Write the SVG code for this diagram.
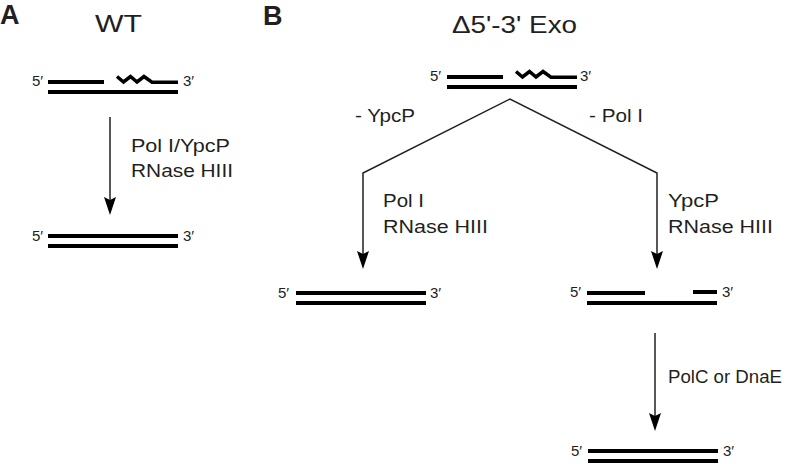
<svg xmlns="http://www.w3.org/2000/svg" width="800" height="464" viewBox="0 0 800 464">
<style>
text{font-family:"Liberation Sans",Arial,sans-serif;fill:#231f20}
.lbl{font-size:17.5px}
.end{font-size:15px}
.ttl{font-size:23px}
.pan{font-size:27px;font-weight:bold}
.dna{stroke:#000;stroke-width:4;fill:none}
.zig{stroke:#000;stroke-width:3.5;fill:none;stroke-linejoin:miter}
.ln{stroke:#231f20;stroke-width:1.5;fill:none}
.ah{fill:#000}
</style>
<defs>
<g id="hybrid">
<line class="dna" x1="0" y1="0" x2="56" y2="0"/>
<polyline class="zig" points="69,-5.5 75.5,0 82.5,-5.5 89,0 96,-5.5 104,0.2 130,0.2"/>
<line class="dna" x1="0" y1="10" x2="130" y2="10"/>
</g>
<g id="duplex">
<line class="dna" x1="0" y1="0" x2="130" y2="0"/>
<line class="dna" x1="0" y1="10" x2="130" y2="10"/>
</g>
</defs>
<g id="labelA"><text class="pan" x="0" y="24">A</text></g>
<g id="labelB"><text class="pan" x="263" y="25">B</text></g>
<g id="titleWT"><text class="ttl" x="95" y="32" textLength="47" lengthAdjust="spacingAndGlyphs">WT</text></g>
<g id="titleExo"><text class="ttl" x="452" y="33" textLength="125" lengthAdjust="spacingAndGlyphs">Δ5'-3' Exo</text></g>

<g id="wt-top">
<use href="#hybrid" x="48" y="82"/>
<text class="end" x="32" y="86">5′</text>
<text class="end" x="183" y="86">3′</text>
</g>
<g id="wt-bottom">
<use href="#duplex" x="48" y="236"/>
<text class="end" x="32" y="241">5′</text>
<text class="end" x="183" y="241">3′</text>
</g>
<g id="exo-top">
<use href="#hybrid" x="447" y="77"/>
<text class="end" x="430" y="81">5′</text>
<text class="end" x="580" y="81">3′</text>
</g>
<g id="exo-left">
<use href="#duplex" x="296" y="293"/>
<text class="end" x="278" y="298">5′</text>
<text class="end" x="430" y="298">3′</text>
</g>
<g id="exo-right">
<line class="dna" x1="587" y1="293" x2="645" y2="293"/>
<line class="dna" x1="693" y1="292" x2="717" y2="292"/>
<line class="dna" x1="587" y1="303" x2="717" y2="303"/>
<text class="end" x="570" y="297">5′</text>
<text class="end" x="722" y="297">3′</text>
</g>
<g id="exo-bottom">
<use href="#duplex" x="588" y="451"/>
<text class="end" x="571" y="456">5′</text>
<text class="end" x="723" y="456">3′</text>
</g>

<g id="connectors">
<line class="ln" x1="110" y1="117" x2="110" y2="200"/>
<polygon class="ah" points="104,197 110,200 116,197 110,215"/>
<polyline class="ln" points="363,254 363,173 510,99 657,173 657,254"/>
<polygon class="ah" points="357,251 363,254 369,251 363,269"/>
<polygon class="ah" points="651,251 657,254 663,251 657,269"/>
<line class="ln" x1="655" y1="333" x2="655" y2="416"/>
<polygon class="ah" points="649,413 655,416 661,413 655,431"/>
</g>

<g id="connector-labels">
<text class="lbl" x="131" y="152" textLength="99" lengthAdjust="spacingAndGlyphs">Pol I/YpcP</text>
<text class="lbl" x="131" y="177" textLength="102" lengthAdjust="spacingAndGlyphs">RNase HIII</text>
<text class="lbl" x="355" y="122" textLength="60" lengthAdjust="spacingAndGlyphs">- YpcP</text>
<text class="lbl" x="589" y="122" textLength="54" lengthAdjust="spacingAndGlyphs">- Pol I</text>
<text class="lbl" x="383" y="207" textLength="41" lengthAdjust="spacingAndGlyphs">Pol I</text>
<text class="lbl" x="383" y="233" textLength="105" lengthAdjust="spacingAndGlyphs">RNase HIII</text>
<text class="lbl" x="668" y="207" textLength="51" lengthAdjust="spacingAndGlyphs">YpcP</text>
<text class="lbl" x="668" y="233" textLength="105" lengthAdjust="spacingAndGlyphs">RNase HIII</text>
<text class="lbl" x="668" y="383" textLength="114" lengthAdjust="spacingAndGlyphs">PolC or DnaE</text>
</g>
</svg>
